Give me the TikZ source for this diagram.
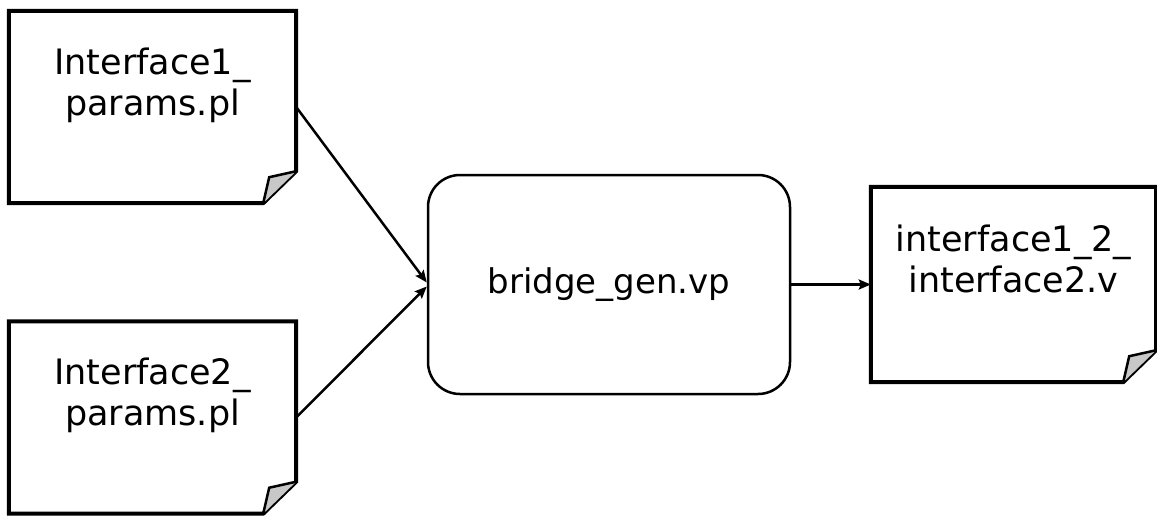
\documentclass[tikz,border=0pt]{standalone}
\usepackage{fontspec}
\setmainfont{DejaVu Sans}
\usetikzlibrary{calc,arrows.meta,backgrounds}
\definecolor{foldgray}{RGB}{200,200,200}
\newcommand\docoutline[1]{%
  \draw[docline] (#1.north west) -- (#1.north east) -- ($(#1.south east)+(0,-32)$)
    -- ($(#1.south east)+(-33,0)$) -- (#1.south west) -- cycle;
  \draw[foldline] ($(#1.south east)+(0,-32)$) -- ($(#1.south east)+(-27,-26)$)
    -- ($(#1.south east)+(-33,0)$);
}
\newcommand\twolines[2]{\raisebox{14pt}[0pt][0pt]{\begin{tabular}{@{}c@{}}#1\\#2\end{tabular}}}
\tikzset{
  x=1pt, y=-1pt,
  docbox/.style={draw=none, inner sep=0pt, minimum width=287pt, minimum height=192pt,
    font=\fontsize{35}{41}\selectfont},
  docline/.style={line width=4pt, line join=miter, fill=white},
  foldline/.style={line width=2.5pt, line join=miter, fill=foldgray},
  procbox/.style={draw, line width=2.5pt, rounded corners=32pt, inner sep=0pt,
    minimum width=362pt, minimum height=219pt, font=\fontsize{34}{41}\selectfont},
  conn/.style={line width=2.5pt, -{Stealth[length=12pt,width=10pt,inset=2pt]}},
}
\begin{document}
\begin{tikzpicture}
\useasboundingbox (0,0) rectangle (1157,515);
\node[docbox] (d1) at (152.5,107) {\twolines{Interface1\_}{params.pl}};
\node[docbox] (d2) at (152.5,417.5) {\twolines{Interface2\_}{params.pl}};
\node[docbox, minimum width=285pt, minimum height=195pt] (d3) at (1013.5,284.5) {\twolines{interface1\_2\_}{interface2.v}};
\begin{scope}[on background layer]
\docoutline{d1}
\docoutline{d2}
\docoutline{d3}
\end{scope}
\node[procbox] (b) at (609,284.5) {bridge\_gen.vp};
\draw[conn] (d1.east) -- ($(b.west)+(0,-2)$);
\draw[conn] (d2.east) -- ($(b.west)+(0,2)$);
\draw[conn] (b.east) -- (d3.west);
\end{tikzpicture}
\end{document}
